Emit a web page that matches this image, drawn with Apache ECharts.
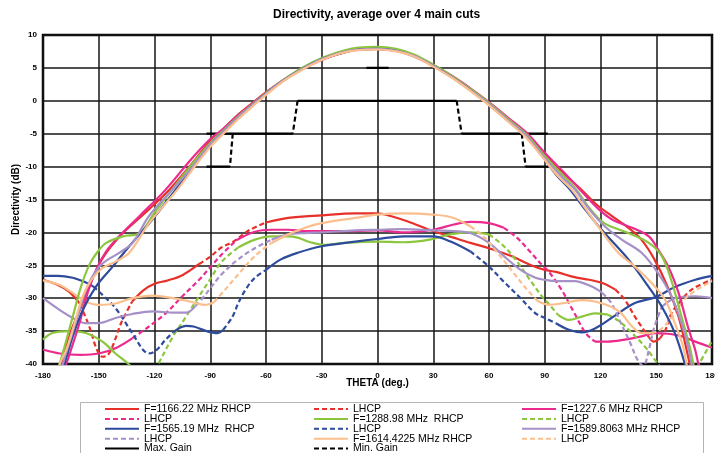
<!DOCTYPE html>
<html><head><meta charset="utf-8">
<script src="https://cdn.jsdelivr.net/npm/echarts@6/dist/echarts.min.js"></script>
<style>html,body{margin:0;padding:0;background:#fff}#c{width:715px;height:453px}</style>
</head><body><div id="c"></div>
<script>
// ---- data: [theta (deg), directivity (dB)] ----
const rhcp1166 = [[-180,-50],[-173,-43],[-170,-39.9],[-166,-35.8],[-160,-31.6],[-155,-28.2],[-150.5,-25.2],[-146,-23.1],[-140,-21],[-134,-19.3],[-123,-16.5],[-112,-13.5],[-100,-9.6],[-90,-6.1],[-84,-4.6],[-75,-2.1],[-65,0.2],[-60,1.3],[-50,3.3],[-40,5],[-30,6.3],[-20,7.2],[-10,7.8],[0,7.9],[10,7.6],[20,6.8],[30,5.4],[40,3.7],[50,1.7],[60,-0.4],[70,-2.7],[80,-5.1],[90,-8.3],[100,-11],[110,-13.6],[118,-15.8],[126,-17.5],[135,-19.3],[142,-21.1],[149,-24.1],[156,-28.2],[162,-32.8],[166,-37.4],[168,-40],[172,-45],[180,-50]];
const lhcp1166 = [[-180,-27.2],[-172,-28],[-166,-29],[-160,-30.9],[-155,-34.4],[-151,-37.8],[-148,-38.9],[-145,-38.6],[-142,-36.9],[-138,-33.8],[-132,-30.5],[-126,-28.8],[-120,-27.8],[-113,-27.3],[-105,-26.5],[-96,-24.8],[-90,-23.7],[-84,-22.3],[-77.6,-21.4],[-68.6,-19.6],[-60,-18.5],[-48,-17.8],[-30,-17.4],[-12,-17.1],[0,-17.1],[7,-17.5],[16,-18.3],[30,-19.8],[41,-20.8],[50,-21.6],[60,-22.4],[72,-23.6],[82,-24.9],[90,-25.7],[96,-26],[106,-26.8],[114,-27.2],[121,-27.7],[128,-28.7],[133,-30.2],[138.5,-32.8],[142,-34.3],[146,-35.9],[148.5,-36.6],[152,-36.1],[155,-34.8],[158,-32.4],[162,-30.8],[169,-28.7],[180,-27.2]];
const rhcp1227 = [[-180,-50],[-172,-43],[-167.5,-40],[-165,-37.9],[-160.4,-33.8],[-156,-29.2],[-151.4,-25.7],[-146,-22.9],[-139,-20.6],[-128,-17.5],[-114,-13.5],[-100,-8.8],[-90,-5.8],[-84,-4.5],[-75,-2.2],[-65,0.1],[-60,1.2],[-50,3.2],[-40,4.9],[-30,6.2],[-20,7.2],[-10,7.8],[0,7.9],[10,7.6],[20,6.8],[30,5.4],[40,3.8],[50,1.9],[60,-0.2],[70,-2.5],[80,-4.8],[90,-7.9],[100,-10.8],[109,-13.5],[118,-16.2],[126,-18],[137,-19.3],[146,-20.6],[151,-22.6],[156.5,-25.2],[162,-29.2],[167,-34.3],[171,-37.9],[172.6,-40],[176,-45],[180,-50]];
const lhcp1227 = [[-180,-37.8],[-171,-38.4],[-160,-38.6],[-150,-38.4],[-141,-37.6],[-132,-36.1],[-123,-34.3],[-114,-32.3],[-105,-29.7],[-96,-27.2],[-90,-25.3],[-84,-23.4],[-76,-21.2],[-66,-19.9],[-57,-19.6],[-48,-19.6],[-39,-19.8],[-30,-19.8],[-12,-19.8],[0,-19.7],[14,-20],[30,-19.6],[41,-18.8],[50,-18.4],[60,-18.6],[68,-19.3],[75,-20.8],[82,-22.9],[89,-25.1],[92,-25.9],[99,-28.7],[106,-32.3],[112,-35.3],[117,-36.6],[124,-36.6],[133,-36.3],[142,-35.8],[149,-35.3],[156,-35.4],[164,-35.8],[171,-36.6],[180,-37.5]];
const rhcp1288 = [[-180,-50],[-174,-44],[-171,-40],[-168.4,-37.4],[-164,-32.8],[-159.5,-28.2],[-155,-24.9],[-150.5,-22.9],[-146,-21.6],[-137,-20.6],[-128,-20.1],[-120,-17],[-110,-13.3],[-100,-9.7],[-90,-6.4],[-84,-4.8],[-75,-2.4],[-65,0],[-60,1.2],[-50,3.3],[-40,5.1],[-30,6.5],[-20,7.5],[-10,8.1],[0,8.2],[10,7.9],[20,7],[30,5.5],[40,3.8],[50,1.8],[60,-0.3],[70,-2.7],[80,-5.1],[90,-8.4],[100,-11.4],[107,-13.5],[114,-16.3],[122,-18.6],[135,-20.1],[146,-21.6],[153,-23.6],[158,-27.2],[163.6,-32.8],[168,-37.4],[170,-40],[174,-45],[180,-50]];
const lhcp1288 = [[-180,-36.3],[-175,-35.3],[-166,-35],[-157,-35.3],[-148,-36.6],[-141,-38.4],[-134,-40],[-127,-42],[-122,-42],[-118,-40],[-110,-35.8],[-103,-32.8],[-96,-29.7],[-90,-27.1],[-84,-24.5],[-75,-22.3],[-66,-21.1],[-57,-20.6],[-48,-20.6],[-43,-20.8],[-36,-21.5],[-28,-21.9],[-18,-21.6],[0,-21.4],[14,-21.5],[28,-21.1],[39,-20.3],[50,-20],[60,-20.3],[68,-22.1],[75,-24.4],[82,-27.2],[89,-29.9],[92,-30.8],[97,-32.5],[103,-33.3],[110,-32.8],[117,-32.3],[124,-32.5],[130,-33.5],[137,-35.3],[144,-37.4],[151,-40],[160,-43],[168,-42.5],[173,-40],[180,-36.5]];
const rhcp1565 = [[-180,-50],[-172,-44],[-168.4,-40],[-164,-35.8],[-158.6,-31.8],[-151.4,-28.2],[-142.5,-25.2],[-133.6,-22.1],[-121,-18],[-108.6,-13.5],[-100,-10.4],[-90,-6.7],[-84,-5],[-75,-2.6],[-65,-0.1],[-60,1.1],[-50,3.2],[-40,4.9],[-30,6.3],[-20,7.2],[-10,7.8],[0,7.9],[10,7.6],[20,6.7],[30,5.3],[40,3.6],[50,1.6],[60,-0.6],[70,-3],[80,-5.5],[90,-8.9],[96,-11.2],[103.6,-13.5],[112,-16.6],[120.6,-19.6],[135,-24.1],[145.7,-28.2],[153,-31.3],[160,-35.3],[165.4,-40],[170,-45],[180,-50]];
const lhcp1565 = [[-180,-26.6],[-172,-26.6],[-164,-26.9],[-157,-27.6],[-153,-28.2],[-148,-29.5],[-141,-31.5],[-132,-35.3],[-126,-37.9],[-123,-38.4],[-119,-37.9],[-114,-36.3],[-110,-35.2],[-103,-34.2],[-99,-34.3],[-92,-35],[-86,-35.3],[-83,-34.8],[-78,-32.8],[-75,-30.8],[-71,-28.7],[-66,-26.9],[-60,-25.7],[-52,-24.1],[-43,-23.1],[-30,-22.1],[-12,-21.4],[0,-21],[14,-20.6],[30,-20.6],[39,-21.35],[50,-22.9],[60,-25.2],[68,-27.5],[77,-30],[85,-32.3],[90,-33],[96,-33.8],[103,-34.8],[110,-35.2],[117,-34.6],[128,-32.6],[138,-30.8],[150,-29.8],[160,-28.3],[171,-27.2],[180,-26.6]];
const rhcp1589 = [[-180,-50],[-173,-44],[-169.3,-40],[-164.8,-35.8],[-160.4,-31.8],[-156.8,-28.7],[-153.2,-26.6],[-147.9,-24.7],[-139,-23.1],[-131.8,-21.6],[-122.9,-17.5],[-110.4,-13.5],[-100,-10.2],[-90,-6.6],[-84,-5],[-75,-2.5],[-65,-0.1],[-60,1.1],[-50,3.2],[-40,4.9],[-30,6.3],[-20,7.3],[-10,7.8],[0,7.9],[10,7.6],[20,6.8],[30,5.3],[40,3.6],[50,1.6],[60,-0.5],[70,-2.9],[80,-5.3],[90,-8.7],[100,-11.8],[106.3,-13.5],[114,-16.5],[122.4,-19.1],[131.4,-21.1],[142.1,-23.1],[151,-26.2],[158.2,-29.7],[163.6,-33.8],[167.2,-37.4],[169,-40],[173,-45],[180,-50]];
const lhcp1589 = [[-180,-30],[-171,-31.8],[-164,-33],[-157,-33.8],[-150,-33.8],[-141,-33],[-132,-32.4],[-121,-32],[-110,-32.2],[-103,-32.2],[-98,-31.2],[-93,-29.6],[-90,-28.5],[-84,-26.4],[-75,-24.1],[-66,-22.4],[-57,-21.1],[-48,-20.3],[-39,-20.1],[-30,-20],[-12,-19.7],[0,-19.6],[14,-19.5],[30,-19.7],[41,-19.8],[50,-20.1],[60,-21.6],[68,-23.6],[77,-25.7],[85,-26.9],[90,-27.2],[96,-27.4],[106,-27.4],[115,-28.2],[121,-29.2],[126,-30.8],[131,-33.8],[136,-36.8],[140,-39.4],[143,-40.3],[146,-37.9],[148.5,-34.8],[153,-31.3],[160,-30],[171,-29.7],[180,-30]];
const rhcp1614 = [[-180,-50],[-174,-44],[-171,-40],[-167.5,-37.9],[-163,-33.8],[-158.6,-29.7],[-154,-27.2],[-147.9,-25.4],[-140.7,-24.4],[-133.6,-23.1],[-122.9,-18.6],[-107.7,-13.5],[-100,-10.6],[-90,-7],[-84,-5.3],[-75,-2.8],[-65,-0.3],[-60,0.9],[-50,3.1],[-40,4.8],[-30,6.2],[-20,7.2],[-10,7.7],[0,7.8],[10,7.5],[20,6.7],[30,5.2],[40,3.5],[50,1.5],[60,-0.7],[70,-3.1],[80,-5.6],[90,-9],[97,-11.4],[104.5,-13.5],[111,-16],[118.8,-19.1],[129.6,-23.1],[138.5,-25.2],[147.5,-27.7],[154.7,-30.2],[160,-33.8],[164.5,-37.4],[166.3,-40],[170,-45],[180,-50]];
const lhcp1614 = [[-180,-27.3],[-171,-28],[-164,-29.2],[-157,-30.5],[-150,-31],[-141,-30.8],[-132,-30],[-121,-29.6],[-110,-30],[-101,-30.5],[-93,-31],[-88,-30.6],[-82,-28.7],[-75,-26.4],[-66,-23.6],[-57,-21.6],[-48,-20.3],[-39,-19.3],[-30,-18.6],[-12,-17.8],[0,-17.3],[14,-17.1],[30,-17.3],[41,-17.8],[50,-19.1],[57,-20.6],[64,-22.9],[72,-25.7],[79,-28.2],[86,-30.4],[92,-31],[99,-30.8],[110,-30.3],[121,-30.8],[130,-32],[137,-34.3],[142,-35.3],[147.5,-35.3],[153,-34.6],[160,-32.3],[167,-29.7],[180,-27.4]];
// spec masks
const maxGain = [[-92,-10],[-79.4,-10],'-',[-92,-5],[-45.6,-5],'-',[-43,0],[42.6,0],'-',[45.3,-5],[91.6,-5],'-',[79.7,-10],[91.9,-10],'-',[-6,5],[6,5]];
const minGain = [[-43,0],[-45.6,-5],'-',[-77.9,-5],[-79.4,-10],'-',[42.6,0],[45.3,-5],'-',[77.6,-5],[79.7,-10]];
// theta ranges where the LHCP dash pattern is visible (steep parts)
const dash1166 = [[-162,-130],[-97,-62],[127,147],[153,176]];
const dash1227 = [[-133,-72],[70,115]];
const dash1288 = [[-120,-72],[63,95],[126,180]];
const dash1565 = [[-152,-109],[-82,-62],[55,96]];
const dash1589 = [[-96,-60],[120,152]];
const dash1614 = [[-86,-55],[48,88],[150,180]];
const xTicks = {min:-180, max:180, interval:30};
const yTicks = {min:-40, max:10, interval:5};

const names = {
  r1166:'F=1166.22 MHz RHCP', l1166:'LHCP 1166.22',
  r1227:'F=1227.6 MHz RHCP', l1227:'LHCP 1227.6',
  r1288:'F=1288.98 MHz  RHCP', l1288:'LHCP 1288.98',
  r1565:'F=1565.19 MHz  RHCP', l1565:'LHCP 1565.19',
  r1589:'F=1589.8063 MHz RHCP', l1589:'LHCP 1589.8063',
  r1614:'F=1614.4225 MHz RHCP', l1614:'LHCP 1614.4225',
  max:'Max. Gain', min:'Min. Gain'
};
const colors = {c1166:'#e8302a', c1227:'#ec2a8e', c1288:'#8cc63f', c1565:'#2d4a9c', c1589:'#a690c8', c1614:'#fbbf8d'};

function splitDash(data, ranges){
  const dashed=[], solid=[]; let lastD=-1, lastS=-1;
  for(let i=0;i<data.length-1;i++){
    const mid=(data[i][0]+data[i+1][0])/2;
    const isD=ranges.some(r=>mid>=r[0]&&mid<=r[1]);
    const arr=isD?dashed:solid; const last=isD?lastD:lastS;
    if(last!==i){ if(arr.length) arr.push('-'); arr.push(data[i]); }
    arr.push(data[i+1]);
    if(isD) lastD=i+1; else lastS=i+1;
  }
  return {dashed, solid};
}
const LW = 2.2, DASH=[5,3];
function line(name, data, color, dashed, z){
  return {type:'line', name, data, smooth:0.35, symbol:'none', silent:true, z:z||2, connectNulls:false,
    lineStyle:{color, width:LW, type: dashed?DASH:'solid'}, itemStyle:{color}};
}
const series = [
  line(names.max, maxGain, '#000', false, 1),
  line(names.min, minGain, '#000', true, 1)
];
const freqs = [
  ['1166', rhcp1166, lhcp1166, dash1166, colors.c1166],
  ['1227', rhcp1227, lhcp1227, dash1227, colors.c1227],
  ['1288', rhcp1288, lhcp1288, dash1288, colors.c1288],
  ['1565', rhcp1565, lhcp1565, dash1565, colors.c1565],
  ['1589', rhcp1589, lhcp1589, dash1589, colors.c1589],
  ['1614', rhcp1614, lhcp1614, dash1614, colors.c1614]
];
freqs.forEach(([k, r, l, d, c])=>{
  const sp = splitDash(l, d);
  series.push(line(names['l'+k], sp.dashed, c, true, 2));
  series.push(line('_s'+k, sp.solid, c, false, 2));
});
freqs.forEach(([k, r, l, d, c])=>{ series.push(line(names['r'+k], r, c, false, 3)); });

const FONT = '"Liberation Sans", Arial, sans-serif';
function legend(left, data){
  return {orient:'vertical', left, top:403.5, height:120, padding:0, itemGap:-1.1, itemWidth:34, itemHeight:8,
    selectedMode:false, data, formatter: n => n.indexOf('LHCP ')===0 ? 'LHCP' : n,
    itemStyle:{color:'rgba(0,0,0,0)', borderColor:'rgba(0,0,0,0)', borderWidth:0},
    textStyle:{fontFamily:FONT, fontSize:10.5, color:'#000', lineHeight:8}};
}
const chart = echarts.init(document.getElementById('c'), null, {renderer:'canvas'});
chart.setOption({
  backgroundColor:'#fff',
  animation:false,
  title:{text:'Directivity, average over 4 main cuts', left:273, top:9, padding:0,
    textStyle:{fontFamily:FONT, fontSize:12, fontWeight:'bold', color:'#000'}},
  grid:{left:43, right:3, top:35, bottom:89, show:true, outerBoundsMode:'none', containLabel:false,
    borderColor:'#000', borderWidth:2.5, backgroundColor:'transparent', z:0},
  xAxis:{type:'value', min:xTicks.min, max:xTicks.max, interval:xTicks.interval,
    name:'THETA (deg.)', nameLocation:'middle', nameGap:14, nameMoveOverlap:false,
    nameTextStyle:{fontFamily:FONT, fontSize:10, fontWeight:'bold', color:'#000'},
    axisLine:{show:false}, axisTick:{show:false},
    axisLabel:{fontFamily:FONT, fontSize:8, fontWeight:'bold', color:'#000', margin:8, hideOverlap:false},
    splitLine:{show:true, lineStyle:{color:'#161616', width:1.5}}},
  yAxis:{type:'value', min:yTicks.min, max:yTicks.max, interval:yTicks.interval,
    name:'Directivity (dB)', nameLocation:'middle', nameGap:22, nameMoveOverlap:false,
    nameTextStyle:{fontFamily:FONT, fontSize:10, fontWeight:'bold', color:'#000'},
    axisLine:{show:false}, axisTick:{show:false},
    axisLabel:{fontFamily:FONT, fontSize:8, fontWeight:'bold', color:'#000', margin:6},
    splitLine:{show:true, lineStyle:{color:'#161616', width:1.5}}},
  legend:[
    legend(104, [names.r1166, names.l1227, names.r1565, names.l1589, names.max]),
    legend(313, [names.l1166, names.r1288, names.l1565, names.r1614, names.min]),
    legend(521, [names.r1227, names.l1288, names.r1589, names.l1614])
  ],
  graphic:[{type:'rect', shape:{x:80.5, y:402.5, width:623, height:60}, style:{fill:'none', stroke:'#b4b4b4', lineWidth:1}, z:-1}],
  series
});
</script></body></html>
